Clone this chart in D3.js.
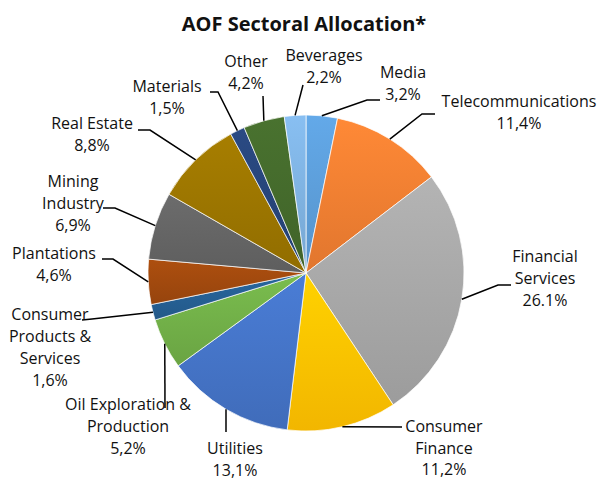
<!DOCTYPE html>
<html>
<head>
<meta charset="utf-8">
<script src="https://cdn.jsdelivr.net/npm/d3@7"></script>
<style>
  body { margin: 0; background: #fff; }
  text { font-family: "Open Sans", "Noto Sans", sans-serif; fill: #111; }
</style>
</head>
<body>
<div id="chart"></div>
<script>
// sector names, clockwise from 12 o'clock
var sectors = ["Media", "Telecommunications", "Financial Services", "Consumer Finance",
  "Utilities", "Oil Exploration & Production", "Consumer Products & Services",
  "Plantations", "Mining Industry", "Real Estate", "Materials", "Other", "Beverages"];

// allocation (%)
var shares = [3.2, 11.4, 26.1, 11.2, 13.1, 5.2, 1.6, 4.6, 6.9, 8.8, 1.5, 4.2, 2.2];

// labels as printed on the chart
var valueLabels = ["3,2%", "11,4%", "26.1%", "11,2%", "13,1%", "5,2%", "1,6%",
  "4,6%", "6,9%", "8,8%", "1,5%", "4,2%", "2,2%"];

var colors = ["#5b9bd5", "#ed7d31", "#a5a5a5", "#ffc000", "#4472c4", "#70ad47", "#255e91",
  "#9e480e", "#636363", "#997300", "#264478", "#43682b", "#7cafdd"];

// label layout: text lines, text centre x, first baseline y, line gap, leader elbow points
var labelLayout = {
  "Media": { lines: ["Media"], x: 403, y: 78, gap: 22, pts: [[367, 100], [380, 100]] },
  "Telecommunications": { lines: ["Telecommunications"], x: 519, y: 107, gap: 22, pts: [[422, 114], [435, 114]] },
  "Financial Services": { lines: ["Financial", "Services"], x: 545, y: 262, gap: 22, pts: [[498, 285], [511, 285]] },
  "Consumer Finance": { lines: ["Consumer", "Finance"], x: 444, y: 432, gap: 21.5, pts: [[402, 427]] },
  "Utilities": { lines: ["Utilities"], x: 235, y: 454, gap: 21.5, pts: [[226, 432]] },
  "Oil Exploration & Production": { lines: ["Oil Exploration &", "Production"], x: 128, y: 410, gap: 22, pts: [[165, 408]] },
  "Consumer Products & Services": { lines: ["Consumer", "Products &", "Services"], x: 50, y: 320, gap: 22, pts: [[92, 319], [82, 320]] },
  "Plantations": { lines: ["Plantations"], x: 54, y: 259, gap: 22, pts: [[113, 259], [102, 259]] },
  "Mining Industry": { lines: ["Mining", "Industry"], x: 73, y: 187, gap: 22, pts: [[115, 208], [103, 208]] },
  "Real Estate": { lines: ["Real Estate"], x: 92, y: 129, gap: 22, pts: [[150, 130], [138, 130]] },
  "Materials": { lines: ["Materials"], x: 167, y: 92, gap: 22, pts: [[218, 92], [210, 92]] },
  "Other": { lines: ["Other"], x: 246, y: 67, gap: 22, pts: [[263, 96]] },
  "Beverages": { lines: ["Beverages"], x: 324, y: 61, gap: 22, pts: [[303, 85]] }
};

var svgWidth = 598;
var svgHeight = 480;
var cx = 306, cy = 273, radius = 158;

var svg = d3.select("#chart")
  .append("svg")
  .attr("width", svgWidth)
  .attr("height", svgHeight);

// title
svg.append("text")
  .attr("x", 304)
  .attr("y", 31)
  .attr("text-anchor", "middle")
  .attr("font-size", "20px")
  .attr("font-weight", "bold")
  .text("AOF Sectoral Allocation*");

var data = sectors.map(function(s, i) {
  return { name: s, value: shares[i], label: valueLabels[i], color: colors[i] };
});

// vertical gradients, lighter at the top like the Excel fill
var defs = svg.append("defs");
data.forEach(function(d, i) {
  var g = defs.append("linearGradient")
    .attr("id", "grad" + i)
    .attr("x1", 0).attr("y1", 0)
    .attr("x2", 0).attr("y2", 1);
  g.append("stop").attr("offset", "0%").attr("stop-color", d3.color(d.color).brighter(0.25));
  g.append("stop").attr("offset", "100%").attr("stop-color", d3.color(d.color).darker(0.15));
});

var pie = d3.pie()
  .sort(null)
  .value(d => d.value);

var arc = d3.arc()
  .innerRadius(0)
  .outerRadius(radius);

var arcs = pie(data);

var chartGroup = svg.append("g")
  .attr("transform", `translate(${cx}, ${cy})`);

chartGroup.selectAll("path")
  .data(arcs)
  .enter()
  .append("path")
  .attr("d", arc)
  .attr("fill", (d, i) => `url(#grad${i})`)
  .attr("stroke", "#ffffff")
  .attr("stroke-width", 0.7);

// leader lines start on the rim at each slice's mid angle
function rimPoint(d) {
  var a = (d.startAngle + d.endAngle) / 2;
  return [cx + radius * Math.sin(a), cy - radius * Math.cos(a)];
}

var labelGroup = svg.append("g");

arcs.forEach(function(d) {
  var lay = labelLayout[d.data.name];
  var pts = [rimPoint(d)].concat(lay.pts);

  labelGroup.append("path")
    .attr("d", d3.line()(pts))
    .attr("fill", "none")
    .attr("stroke", "#000")
    .attr("stroke-width", 1.5);

  var lines = lay.lines.concat([d.data.label]);
  var t = labelGroup.append("text")
    .attr("text-anchor", "middle")
    .attr("font-size", "16px");
  lines.forEach(function(l, k) {
    t.append("tspan")
      .attr("x", lay.x)
      .attr("y", lay.y + k * lay.gap)
      .text(l);
  });
});
</script>
</body>
</html>
